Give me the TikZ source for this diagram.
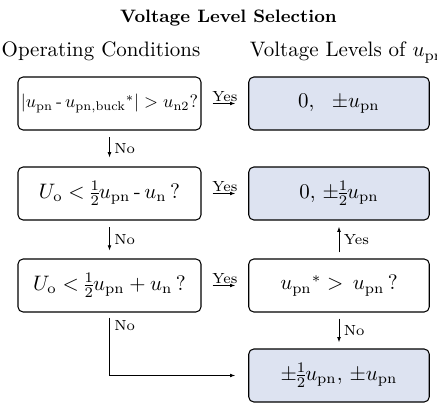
\RequirePackage{fix-cm}
\documentclass[tikz,border=0pt]{standalone}
\usepackage{amsmath}
\usepackage{graphicx}
\usetikzlibrary{arrows.meta}
\definecolor{levelfill}{RGB}{221,227,241}
\newcommand{\mainsize}{\fontsize{10}{12}\selectfont}
\newcommand{\titlesize}{\fontsize{8.6}{10}\selectfont}
\newcommand{\labelsize}{\fontsize{7}{8}\selectfont}
\tikzset{
  condbox/.style={draw=black, line width=0.5pt, rounded corners=2.4pt,
    minimum width=87.4pt, minimum height=25.3pt, inner sep=0pt,
    font=\mainsize},
  levelbox/.style={condbox, fill=levelfill, minimum width=86.2pt},
  flow/.style={-{Latex[length=2.5pt,width=1.8pt]}, line width=0.4pt},
  lbl/.style={font=\labelsize, inner sep=0.5pt},
}
\begin{document}
% one unit = one pixel of the 437 x 403 layout grid
\begin{tikzpicture}[x=0.4776pt,y=-0.4776pt]
\useasboundingbox (0,0) rectangle (437,403);
\nulldelimiterspace=0pt

% headings
\node[anchor=base, font=\titlesize\bfseries] (title) at (228.5,22.5) {Voltage Level Selection};
\node[anchor=base, font=\mainsize] (hcond) at (101,57) {Operating Conditions};
\node[anchor=base west, font=\mainsize, inner sep=0pt] (hlev) at (249.5,57) {Voltage Levels of $u_{\mathrm{pri}}$};

% operating conditions
\node[condbox] (c1) at (109.5,103.5)
  {\scalebox{0.86}{$|u_{\mathrm{pn}}$\,-\,${u_{\mathrm{pn,buck}}}^{*}| > u_{\mathrm{n2}}?$}};
\node[condbox] (c2) at (109.5,193.5)
  {$U_{\mathrm{o}} < \tfrac{1}{2}u_{\mathrm{pn}}$\,-\,$u_{\mathrm{n}}$\,?};
\node[condbox] (c3) at (109.5,285.5)
  {$U_{\mathrm{o}} < \tfrac{1}{2}u_{\mathrm{pn}}+u_{\mathrm{n}}$\,?};

% voltage levels
\node[levelbox] (l1) at (339,103.5) {$0,\ \ \pm u_{\mathrm{pn}}$};
\node[levelbox] (l2) at (339,193.5) {$0,\,\pm\tfrac{1}{2}u_{\mathrm{pn}}$};
\node[condbox, minimum width=86.2pt] (q3) at (339,285.5)
  {${u_{\mathrm{pn}}}^{*} > \,u_{\mathrm{pn}}$\,?};
\node[levelbox] (l4) at (339,375.5) {$\pm\tfrac{1}{2}u_{\mathrm{pn}},\,\pm u_{\mathrm{pn}}$};

% connectors
\draw[flow, shorten <=5.3pt, shorten >=6.2pt] (c1) -- node[lbl, above] {Yes} (l1);
\draw[flow, shorten <=5.3pt, shorten >=6.2pt] (c2) -- node[lbl, above] {Yes} (l2);
\draw[flow, shorten <=5.3pt, shorten >=6.2pt] (c3) -- node[lbl, above] {Yes} (q3);

\draw[flow, shorten <=3.3pt, shorten >=4.3pt] (c1) -- node[lbl, right=1.6pt] {No} (c2);
\draw[flow, shorten <=3.3pt, shorten >=3.8pt] (c2) -- node[lbl, right=1.6pt] {No} (c3);

\draw[flow, shorten <=2.9pt, shorten >=2.9pt] (q3) -- node[lbl, right=1.6pt] {No} (l4);
\draw[flow, shorten <=2.9pt, shorten >=2.9pt] (q3) -- node[lbl, right=1.6pt] {Yes} (l2);

\draw[flow, shorten <=2.4pt, shorten >=6.2pt] (c3) |- node[lbl, pos=0.1, right=1.6pt] {No} (l4);
\end{tikzpicture}
\end{document}
